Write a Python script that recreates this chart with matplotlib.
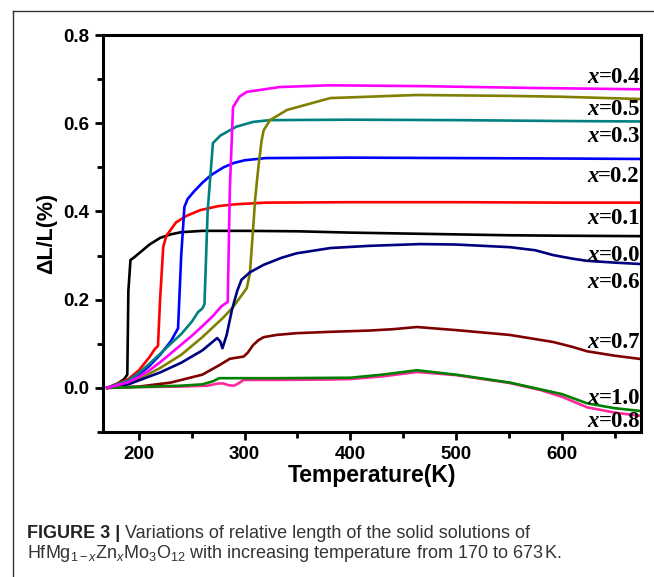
import matplotlib
matplotlib.use("Agg")
import matplotlib.pyplot as plt
from matplotlib.lines import Line2D
from matplotlib.offsetbox import TextArea, HPacker, AnnotationBbox
from matplotlib.ticker import MultipleLocator

plt.rcParams['mathtext.fontset'] = 'custom'
plt.rcParams['mathtext.rm'] = 'Liberation Sans'
plt.rcParams['mathtext.it'] = 'Liberation Sans:italic'
plt.rcParams['mathtext.bf'] = 'Liberation Sans:bold'

# ---------------- data ----------------
T_00 = [170, 180, 186, 189, 190, 192, 195, 200, 210, 220, 230, 240, 260, 300, 350, 400, 450, 500, 550, 600, 673]
Y_00 = [0, 0.01, 0.02, 0.03, 0.22, 0.29, 0.295, 0.305, 0.325, 0.34, 0.348, 0.353, 0.356, 0.356, 0.355, 0.352, 0.35, 0.348, 0.346, 0.345, 0.344]

T_01 = [170, 190, 200, 210, 215, 218, 220, 223, 226, 235, 245, 258, 275, 290, 320, 400, 500, 600, 673]
Y_01 = [0, 0.02, 0.04, 0.07, 0.088, 0.095, 0.2, 0.32, 0.345, 0.375, 0.39, 0.403, 0.412, 0.416, 0.42, 0.421, 0.421, 0.42, 0.42]

T_02 = [170, 190, 200, 210, 220, 230, 237, 240, 243, 246, 252, 260, 268, 280, 290, 300, 320, 400, 500, 600, 673]
Y_02 = [0, 0.015, 0.03, 0.05, 0.075, 0.105, 0.135, 0.3, 0.41, 0.428, 0.445, 0.465, 0.482, 0.5, 0.51, 0.516, 0.521, 0.522, 0.521, 0.52, 0.519]

T_03 = [170, 190, 200, 210, 220, 230, 240, 250, 256, 260, 262, 265, 270, 277, 292, 308, 324, 400, 500, 600, 673]
Y_03 = [0, 0.017, 0.034, 0.055, 0.077, 0.1, 0.122, 0.15, 0.172, 0.18, 0.19, 0.4, 0.555, 0.572, 0.592, 0.603, 0.607, 0.608, 0.607, 0.605, 0.604]

T_04 = [170, 190, 200, 210, 220, 230, 240, 250, 260, 270, 278, 281, 284, 286, 289, 295, 302, 333, 380, 470, 570, 673]
Y_04 = [0, 0.013, 0.025, 0.04, 0.058, 0.078, 0.098, 0.118, 0.14, 0.163, 0.185, 0.19, 0.195, 0.45, 0.636, 0.66, 0.671, 0.682, 0.686, 0.684, 0.68, 0.677]

T_05 = [170, 190, 200, 220, 240, 260, 280, 289, 302, 305, 308, 310, 313, 316, 318, 324, 340, 381, 463, 550, 600, 673]
Y_05 = [0, 0.01, 0.02, 0.045, 0.075, 0.115, 0.16, 0.183, 0.226, 0.26, 0.36, 0.43, 0.5, 0.56, 0.584, 0.607, 0.63, 0.657, 0.664, 0.662, 0.66, 0.655]

T_06 = [170, 190, 200, 220, 240, 260, 270, 274, 277, 279, 283, 288, 293, 297, 305, 318, 335, 349, 381, 418, 466, 500, 551, 575, 592, 610, 624, 650, 673]
Y_06 = [0, 0.008, 0.017, 0.035, 0.057, 0.085, 0.105, 0.113, 0.105, 0.09, 0.12, 0.177, 0.22, 0.245, 0.262, 0.279, 0.295, 0.305, 0.317, 0.322, 0.326, 0.325, 0.319, 0.312, 0.301, 0.293, 0.288, 0.284, 0.281]

T_07 = [170, 200, 230, 260, 275, 286, 299, 303, 308, 313, 318, 330, 349, 380, 418, 440, 463, 500, 551, 592, 610, 624, 650, 673]
Y_07 = [0, 0.003, 0.012, 0.03, 0.05, 0.066, 0.071, 0.08, 0.097, 0.108, 0.115, 0.12, 0.124, 0.127, 0.13, 0.133, 0.138, 0.131, 0.12, 0.104, 0.093, 0.083, 0.073, 0.066]

T_08 = [170, 200, 240, 265, 275, 280, 285, 290, 294, 299, 330, 380, 400, 430, 463, 500, 551, 580, 600, 624, 650, 673]
Y_08 = [0, 0.002, 0.003, 0.005, 0.01, 0.01, 0.006, 0.005, 0.01, 0.018, 0.018, 0.019, 0.02, 0.026, 0.036, 0.029, 0.011, -0.005, -0.02, -0.044, -0.056, -0.063]

T_10 = [170, 200, 240, 260, 270, 276, 290, 330, 400, 430, 463, 500, 551, 600, 624, 650, 673]
Y_10 = [0, 0.002, 0.005, 0.008, 0.015, 0.022, 0.022, 0.022, 0.023, 0.03, 0.04, 0.03, 0.012, -0.014, -0.035, -0.046, -0.052]

series = [
    (T_00, Y_00, '#000000'),
    (T_01, Y_01, '#ff0000'),
    (T_02, Y_02, '#0000ff'),
    (T_03, Y_03, '#008080'),
    (T_05, Y_05, '#808000'),
    (T_06, Y_06, '#000080'),
    (T_07, Y_07, '#800000'),
    (T_08, Y_08, '#ff2a9d'),
    (T_10, Y_10, '#008000'),
    (T_04, Y_04, '#ff00ff'),
]

labels = ['0.4', '0.5', '0.3', '0.2', '0.1', '0.0', '0.6', '0.7', '1.0', '0.8']
label_y = [0.704, 0.630, 0.569, 0.480, 0.383, 0.301, 0.238, 0.102, -0.023, -0.077]

# ---------------- figure ----------------
W, H = 654, 577
fig = plt.figure(figsize=(W / 100, H / 100), dpi=100)
ax = fig.add_axes([103 / W, 1 - 432 / H, (641 - 103) / W, (432 - 35) / H])

for T, Y, c in series:
    ax.plot(T, Y, color=c, lw=1.9, solid_joinstyle='round')

ax.set_xlim(166, 675)
ax.set_ylim(-0.1, 0.8)
ax.xaxis.set_major_locator(MultipleLocator(100))
ax.xaxis.set_minor_locator(MultipleLocator(50))
ax.yaxis.set_major_locator(MultipleLocator(0.2))
ax.yaxis.set_minor_locator(MultipleLocator(0.1))
ax.yaxis.set_major_formatter(matplotlib.ticker.FormatStrFormatter('%.1f'))
for s in ax.spines.values():
    s.set_linewidth(2.2)
ax.tick_params(which='major', direction='out', length=6, width=2, labelsize=13.5, pad=4)
ax.tick_params(which='minor', direction='out', length=4, width=2)
for lab in ax.get_xticklabels() + ax.get_yticklabels():
    lab.set_fontweight('bold')
    lab.set_family('Liberation Sans')

ax.set_xlabel('Temperature(K)', fontsize=16.5, fontweight='bold', family='Liberation Sans', labelpad=1)
ax.set_ylabel('ΔL/L(%)', fontsize=15.5, fontweight='bold', family='Liberation Sans', labelpad=4)

for lab, yv in zip(labels, label_y):
    ta1 = TextArea('x', textprops=dict(family='Liberation Serif', style='italic', weight='bold', size=16.5))
    ta2 = TextArea('=' + lab, textprops=dict(family='Liberation Serif', weight='bold', size=16.5))
    box = HPacker(children=[ta1, ta2], pad=0, sep=0, align='baseline')
    ab = AnnotationBbox(box, (0.998, yv), xycoords=('axes fraction', 'data'),
                        box_alignment=(1, 0.5), frameon=False, pad=0)
    ax.add_artist(ab)

# frame lines
fig.add_artist(Line2D([12.5 / W, 1], [1 - 10.5 / H, 1 - 10.5 / H], color='#333333', lw=1.0, transform=fig.transFigure))
fig.add_artist(Line2D([12.5 / W, 12.5 / W], [0, 1 - 10.5 / H], color='#333333', lw=1.0, transform=fig.transFigure))

# caption
cap_size = 13
t1 = fig.text(27 / W, 1 - 538 / H, 'FIGURE 3 |', family='Liberation Sans', weight='bold',
              size=cap_size, color='#222222', ha='left', va='baseline')
renderer = fig.canvas.get_renderer()
bb = t1.get_window_extent(renderer)
fig.text(bb.x1 / W, 1 - 538 / H, ' Variations of relative length of the solid solutions of',
         family='Liberation Sans', size=cap_size, color='#333333', ha='left', va='baseline')
fig.text(27 / W, 1 - 558 / H,
         r'HfMg$_{1-x}$Zn$_{x}$Mo$_{3}$O$_{12}$ with increasing temperature from 170 to 673$\,$K.',
         family='Liberation Sans', size=cap_size, color='#333333', ha='left', va='baseline')

fig.savefig('out.png', dpi=100)
